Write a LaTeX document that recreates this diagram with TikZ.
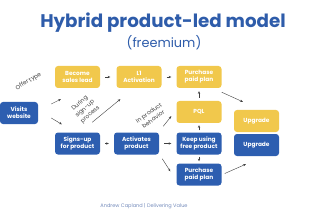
\documentclass[tikz,border=0pt]{standalone}
\usepackage{fontspec}
\setmainfont{Poppins}
\usepackage{xcolor}
\definecolor{plyellow}{RGB}{241,200,76}
\definecolor{plblue}{RGB}{45,94,176}
\definecolor{pltitle}{RGB}{46,92,170}
\definecolor{plfoot}{RGB}{115,138,186}
\usetikzlibrary{arrows.meta, positioning}

\begin{document}
\begin{tikzpicture}[x=0.3mm, y=-0.3mm,
  box/.style={rounded corners=0.9mm, minimum width=13.5mm, minimum height=6.6mm,
    inner sep=0pt, align=center, text=white, font=\fontsize{5}{6}\selectfont\bfseries},
  ybox/.style={box, fill=plyellow},
  bbox/.style={box, fill=plblue},
  arr/.style={-{Stealth[length=2.2pt,width=2pt]}, black!75, line width=0.35pt},
  note/.style={font=\fontsize{5}{6.6}\selectfont, text=black!75, align=center, inner sep=0pt}]

  \useasboundingbox (0,0) rectangle (320,213);

  % Title
  \node[text=pltitle, font=\fontsize{15.6}{17}\selectfont\bfseries] (title) at (163,23) {Hybrid product-led model};
  \node[text=pltitle, font=\fontsize{11}{12}\selectfont] (sub) at (164,43) {(freemium)};

  % Top row: sales-assisted path (yellow)
  \node[ybox] (sales) at (77.5,77) {Become\\sales lead};
  \node[ybox] (l1) at (139,77) {L1\\Activation};
  \node[ybox] (buyY) at (199,77) {Purchase\\paid plan};
  \node[ybox] (pql) at (199,112) {PQL};
  \node[ybox] (upY) at (256.5,121) {Upgrade};

  % Bottom row: self-serve path (blue)
  \node[bbox, minimum width=11.4mm] (visit) at (19,113) {Visits\\website};
  \node[bbox] (signup) at (77.5,143.5) {Signs-up\\for product};
  \node[bbox] (act) at (136.5,143.5) {Activates\\product};
  \node[bbox] (keep) at (199,143.5) {Keep using\\free product};
  \node[bbox] (buyB) at (199,174.5) {Purchase\\paid plan};
  \node[bbox] (upB) at (256.5,145) {Upgrade};

  % Entry arrows
  \draw[arr] ([shift={(13,-9)}]visit.east) -- ([shift={(6,11)}]sales.south west);
  \draw[arr] ([shift={(13,5)}]visit.east) -- ([shift={(7,-8)}]signup.north west);
  \node[note, rotate=32] (offer) at (28.5,81.5) {Offer type};

  % Top row links
  \draw[arr, shorten <=1.5mm, shorten >=1.8mm] (sales) -- (l1);
  \draw[arr, shorten <=1.5mm, shorten >=1.5mm] (l1) -- (buyY);
  \draw[arr, shorten <=0.9mm, shorten >=0.9mm] (pql) -- (buyY);
  \draw[arr, shorten <=0.6mm, shorten >=0.6mm] (keep) -- (pql);
  \draw[arr] ([shift={(0,4)}]buyY.south east) -- ([shift={(9,-8)}]upY.north west);

  % Bottom row links
  \draw[arr, shorten <=1.5mm, shorten >=1.5mm] (signup) -- (act);
  \draw[arr, shorten <=1.5mm, shorten >=1.5mm] (act) -- (keep);
  \draw[arr, shorten <=0.6mm, shorten >=0.6mm] (keep) -- (buyB);
  \draw[arr] ([shift={(3,4)}]act.south east) -- ([shift={(-6,8)}]buyB.north west);
  \draw[arr] ([shift={(3,-1)}]buyB.east) -- ([shift={(12,8)}]upB.south west);

  % Cross-over arrows
  \draw[arr] ([shift={(-8,-10)}]signup.north east) -- ([shift={(4,11)}]l1.south west);
  \node[note, rotate=42] (during) at (85,109) {During\\sign-up\\process};
  \draw[arr] ([shift={(4,-6)}]act.north east) -- ([shift={(-5,-7)}]pql.south west);
  \node[note, rotate=35] (behave) at (151,116) {In product\\behavior};

  % Footer
  \node[text=plfoot, font=\fontsize{4.3}{5}\selectfont] (foot) at (144,206) {Andrew Capland | Delivering Value};

\end{tikzpicture}
\end{document}
